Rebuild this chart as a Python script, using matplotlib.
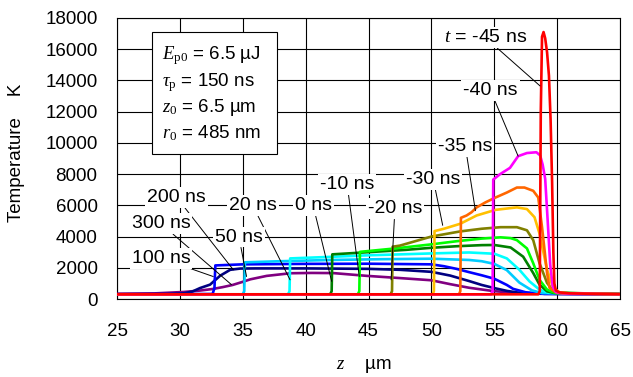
import matplotlib
matplotlib.use("Agg")
import matplotlib.pyplot as plt
from matplotlib.patches import Rectangle

plt.rcParams['font.family'] = ['Liberation Sans', 'DejaVu Sans']
plt.rcParams['mathtext.fontset'] = 'custom'
plt.rcParams['mathtext.it'] = 'Liberation Serif:italic'
plt.rcParams['mathtext.rm'] = 'Liberation Serif'
plt.rcParams['mathtext.bf'] = 'Liberation Serif:bold'

# ---------------- data ----------------
x_ticks = [25, 30, 35, 40, 45, 50, 55, 60, 65]
y_ticks = [0, 2000, 4000, 6000, 8000, 10000, 12000, 14000, 16000, 18000]

z_m45 = [25, 58.5, 58.62, 58.7, 58.8, 58.92, 59.05, 59.2, 59.35, 59.48, 59.6, 59.7, 59.78, 59.9, 60.2, 61, 63, 65]
T_m45 = [300, 300, 500, 12000, 16800, 17100, 16700, 15800, 14300, 11500, 7500, 3000, 1000, 550, 420, 360, 330, 310]

z_m40 = [25, 54.75, 54.87, 54.92, 55.45, 56.25, 56.9, 57.6, 58.35, 58.65, 58.85, 59.05, 59.25, 59.45, 59.65, 59.9, 60.3, 61, 65]
T_m40 = [300, 300, 500, 7650, 7990, 8400, 9150, 9350, 9400, 9200, 8600, 7700, 5000, 2200, 800, 450, 380, 340, 310]

z_m35 = [25, 52.2, 52.3, 52.35, 52.8, 53.2, 53.6, 54.3, 55.1, 56.0, 56.8, 57.4, 58.1, 58.5, 58.8, 59.2, 59.4, 60.0, 61, 65]
T_m35 = [300, 300, 500, 5200, 5350, 5560, 5870, 6190, 6500, 6820, 7140, 7140, 6930, 6500, 4600, 1660, 710, 390, 340, 310]

z_m30 = [25, 50.1, 50.2, 50.25, 51.0, 52.3, 53.6, 55.1, 56.8, 57.6, 58.2, 58.6, 59.2, 59.7, 60.2, 61, 65]
T_m30 = [300, 300, 500, 4350, 4500, 4820, 5350, 5710, 5870, 5760, 5240, 4190, 1870, 710, 420, 350, 310]

z_m20 = [25, 46.75, 46.87, 46.92, 47.5, 50.0, 52.3, 54.0, 55.5, 56.8, 57.6, 58.1, 58.6, 59.2, 59.7, 60.2, 65]
T_m20 = [300, 300, 500, 3350, 3420, 4000, 4330, 4500, 4600, 4600, 4400, 3770, 2290, 1030, 500, 400, 310]

z_m10 = [25, 44.15, 44.27, 44.32, 47.0, 50.0, 52.0, 54.0, 55.5, 56.3, 56.8, 57.6, 58.1, 58.6, 59.2, 59.8, 65]
T_m10 = [300, 300, 500, 3020, 3230, 3500, 3700, 3870, 3950, 3900, 3770, 3240, 2290, 1230, 600, 400, 310]

z_0 = [25, 41.95, 42.07, 42.12, 45.0, 48.0, 50.0, 52.0, 54.0, 55.0, 56.3, 57.3, 58.1, 58.6, 59.2, 59.8, 65]
T_0 = [300, 300, 500, 2860, 3000, 3150, 3280, 3380, 3450, 3460, 3300, 2710, 1660, 920, 490, 380, 310]

z_20 = [25, 38.6, 38.72, 38.77, 42.0, 45.0, 48.0, 50.0, 53.0, 55.0, 56.0, 57.0, 57.8, 58.6, 59.3, 65]
T_20 = [300, 300, 500, 2600, 2700, 2800, 2870, 2920, 2980, 2900, 2600, 1870, 1130, 600, 400, 310]

z_50 = [25, 35.0, 35.12, 35.17, 38.0, 42.0, 46.0, 50.0, 53.0, 54.0, 55.0, 56.0, 57.0, 58.0, 58.8, 65]
T_50 = [300, 300, 500, 2350, 2420, 2500, 2550, 2580, 2500, 2420, 2250, 1850, 1050, 550, 380, 310]

z_100 = [25, 32.6, 32.75, 32.82, 35.0, 40.0, 45.0, 50.0, 51.0, 52.0, 53.0, 54.0, 55.0, 56.0, 56.5, 57.5, 59.0, 65]
T_100 = [300, 320, 700, 2150, 2220, 2250, 2260, 2220, 2100, 1930, 1720, 1520, 1300, 900, 650, 430, 330, 310]

z_200 = [25, 29.0, 30.3, 31.0, 31.6, 32.4, 33.2, 34.0, 34.8, 36.0, 40.0, 45.0, 47.5, 50.0, 51.5, 53.0, 54.0, 55.0, 56.0, 57.0, 58.0, 65]
T_200 = [300, 310, 360, 480, 700, 920, 1490, 1870, 1950, 1960, 1960, 1930, 1870, 1740, 1500, 1150, 900, 700, 520, 400, 340, 310]

z_300 = [25, 28.0, 30.3, 31.6, 32.6, 33.4, 34.2, 35.0, 35.6, 36.9, 38.8, 40.5, 42.2, 44.9, 47.5, 50.0, 51.5, 53.0, 55.0, 57.0, 59.0, 65]
T_300 = [340, 360, 450, 540, 640, 760, 900, 1100, 1260, 1480, 1650, 1670, 1660, 1480, 1340, 1200, 950, 720, 500, 380, 330, 310]

# drawing order: latest time first, -45 ns last (on top)
series = [
    (z_300, T_300, '#800080'),
    (z_200, T_200, '#000080'),
    (z_100, T_100, '#0000FF'),
    (z_50, T_50, '#00CCFF'),
    (z_20, T_20, '#00FFFF'),
    (z_0, T_0, '#008000'),
    (z_m10, T_m10, '#00FF00'),
    (z_m20, T_m20, '#808000'),
    (z_m30, T_m30, '#FFC000'),
    (z_m35, T_m35, '#FF6600'),
    (z_m40, T_m40, '#FF00FF'),
    (z_m45, T_m45, '#FF0000'),
]

fig = plt.figure(figsize=(6.33, 3.77), dpi=100)
ax = fig.add_axes([117/633, 1-299/377, 503/633, 281/377])

for z, T, c in series:
    ax.plot(z, T, color=c, lw=1.9, solid_joinstyle='round', zorder=3)

ax.set_xlim(25, 65)
ax.set_ylim(0, 18000)
ax.set_xticks(x_ticks)
ax.set_yticks(y_ticks)
ax.grid(True, color='black', lw=0.8, zorder=0)
ax.set_axisbelow(True)
ax.tick_params(length=0, labelsize=13.5)
ax.tick_params(axis='x', pad=17)
ax.tick_params(axis='y', pad=14)
for s in ax.spines.values():
    s.set_linewidth(0.8)

ax.set_xlabel('$z$    µm', fontsize=13.5)
ax.xaxis.set_label_coords(0.49, -0.205)
ax.set_ylabel('Temperature    K', fontsize=13.5)
ax.yaxis.set_label_coords(-0.183, 0.52)

# parameter box
ax.add_patch(Rectangle((0.0696, 0.516), 0.249, 0.434, transform=ax.transAxes,
                       facecolor='white', edgecolor='black', lw=0.8, zorder=5))
params = ['$E_{\\mathrm{p0}}$ = 6.5 µJ', '$\\tau_{\\mathrm{p}}$ = 150 ns',
          '$z_{0}$ = 6.5 µm', '$r_{0}$ = 485 nm']
for i, s in enumerate(params):
    ax.text(0.089, 0.852 - i*0.0937, s, transform=ax.transAxes, fontsize=13.5,
            ha='left', va='baseline', zorder=6)

# curve labels
lab_kw = dict(ha='center', va='center', fontsize=14, zorder=7,
              bbox=dict(boxstyle='square,pad=0.1', fc='white', ec='none'),
              arrowprops=dict(arrowstyle='-', lw=0.7, color='black', shrinkA=0, shrinkB=0))
labels = [
    ('$t$ = -45 ns', (58.64, 13650), (54.3, 16740)),
    ('-40 ns', (56.9, 9150), (54.7, 13370)),
    ('-35 ns', (53.5, 5660), (52.7, 9780)),
    ('-30 ns', (50.9, 4720), (50.15, 7670)),
    ('-20 ns', (46.8, 1230), (47.1, 5770)),
    ('-10 ns', (44.27, 1440), (43.3, 7350)),
    ('0 ns', (42.07, 1130), (40.6, 5980)),
    ('20 ns', (38.76, 1230), (35.8, 5980)),
    ('50 ns', (35.3, 1440), (34.7, 3970)),
    ('200 ns', (34.25, 1870), (29.75, 6510)),
    ('300 ns', (34.1, 920), (28.5, 4820)),
    ('100 ns', (32.65, 1440), (28.5, 2610)),
]
for txt, xy, xyt in labels:
    ax.annotate(txt, xy=xy, xytext=xyt, **lab_kw)

fig.savefig('out.png', dpi=100)
